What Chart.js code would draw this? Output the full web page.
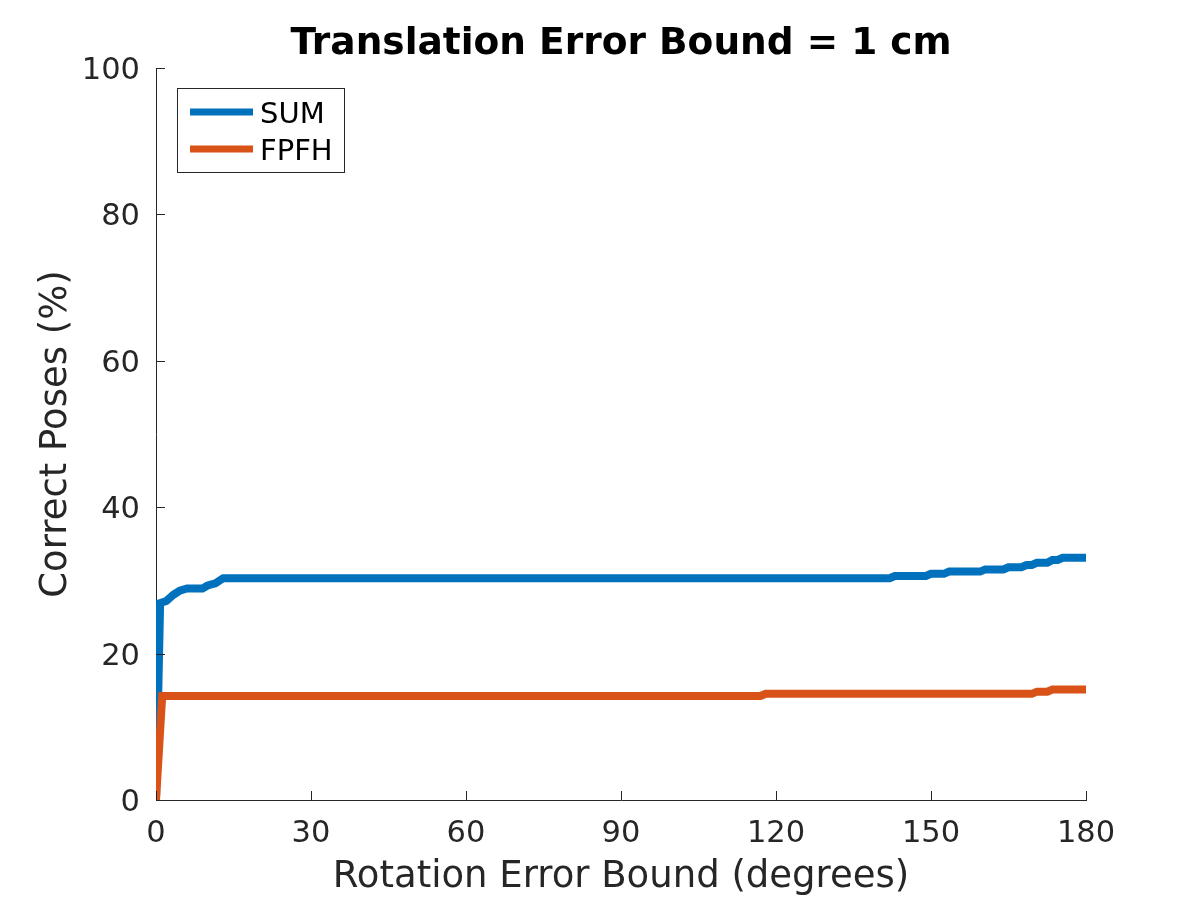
<!DOCTYPE html>
<html>
<head>
<meta charset="utf-8">
<script src="https://cdn.jsdelivr.net/npm/chart.js@4"></script>
<style>
  html, body { margin: 0; padding: 0; background: #fff; }
  #wrap { width: 1200px; height: 900px; }
</style>
</head>
<body>
<div id="wrap"><canvas id="chart" width="1200" height="900"></canvas></div>
<script>
// rotation bound (deg) / correct poses (%)
const sumX = [0, 0.8, 2, 3.3, 4.6, 6, 9, 10, 11.5, 13, 142, 143, 149, 150, 152.5, 153.5, 159.5, 160.5, 164, 165, 167.5, 168.5, 169.5, 170.5, 172.5, 173.5, 174.5, 175.5, 180];
const sumY = [0, 26.9, 27.2, 28.0, 28.6, 28.9, 28.9, 29.3, 29.6, 30.3, 30.3, 30.6, 30.6, 30.9, 30.9, 31.2, 31.2, 31.5, 31.5, 31.8, 31.8, 32.1, 32.1, 32.4, 32.4, 32.8, 32.8, 33.1, 33.1];
const fpfhX = [0, 1.2, 117, 118, 169.5, 170.5, 172.5, 173.5, 180];
const fpfhY = [0, 14.2, 14.2, 14.5, 14.5, 14.8, 14.8, 15.1, 15.1];

const xTicks = [0, 30, 60, 90, 120, 150, 180];
const yTicks = [0, 20, 40, 60, 80, 100];

const seriesNames = ['SUM', 'FPFH'];
const seriesColors = ['#0072BD', '#D95319'];

const TEXT = '#262626';
const FONT = 'DejaVu Sans';

function toPoints(xs, ys) {
    return xs.map((x, i) => ({ x: x, y: ys[i] }));
}

// matlab style ticks pointing into the axes
const insideTicks = {
    id: 'insideTicks',
    afterDraw(chart) {
        const ctx = chart.ctx;
        const { left, bottom } = chart.chartArea;
        const xs = chart.scales.x, ys = chart.scales.y;
        const len = 9;
        ctx.save();
        ctx.strokeStyle = TEXT;
        ctx.lineWidth = 1;
        ctx.beginPath();
        xTicks.forEach(v => {
            const px = Math.round(xs.getPixelForValue(v)) + 0.5;
            ctx.moveTo(px, bottom);
            ctx.lineTo(px, bottom - len);
        });
        yTicks.forEach(v => {
            const py = Math.round(ys.getPixelForValue(v)) + 0.5;
            ctx.moveTo(left, py);
            ctx.lineTo(left + len, py);
        });
        ctx.stroke();
        ctx.restore();
    }
};

// boxed legend in the upper left of the axes
const boxLegend = {
    id: 'boxLegend',
    afterDraw(chart) {
        const ctx = chart.ctx;
        const { left, top } = chart.chartArea;
        const bx = left + 21, by = top + 20, bw = 167, bh = 84;
        ctx.save();
        ctx.fillStyle = '#fff';
        ctx.fillRect(bx, by, bw, bh);
        ctx.strokeStyle = TEXT;
        ctx.lineWidth = 1;
        ctx.strokeRect(bx + 0.5, by + 0.5, bw, bh);
        ctx.font = '29px "' + FONT + '"';
        ctx.textBaseline = 'middle';
        ctx.fillStyle = '#000';
        seriesNames.forEach((name, i) => {
            const cy = by + 24 + i * 37;
            ctx.strokeStyle = seriesColors[i];
            ctx.lineWidth = 7;
            ctx.beginPath();
            ctx.moveTo(bx + 13, cy);
            ctx.lineTo(bx + 76, cy);
            ctx.stroke();
            ctx.fillText(name, bx + 83, cy + 3);
        });
        ctx.restore();
    }
};

new Chart(document.getElementById('chart'), {
    type: 'line',
    data: {
        datasets: [
            {
                label: seriesNames[0],
                data: toPoints(sumX, sumY),
                borderColor: seriesColors[0],
                borderWidth: 8,
                pointRadius: 0,
                tension: 0,
                order: 2
            },
            {
                label: seriesNames[1],
                data: toPoints(fpfhX, fpfhY),
                borderColor: seriesColors[1],
                borderWidth: 8,
                pointRadius: 0,
                tension: 0,
                order: 1
            }
        ]
    },
    options: {
        responsive: false,
        animation: false,
        layout: { padding: { left: 0, right: 114, top: 0, bottom: 0 } },
        plugins: {
            legend: { display: false },
            tooltip: { enabled: false },
            title: {
                display: true,
                fullSize: false,
                text: 'Translation Error Bound = 1 cm',
                color: '#000',
                font: { family: FONT, size: 37.5, weight: 'bold' },
                padding: { top: 22, bottom: 1 }
            }
        },
        scales: {
            x: {
                type: 'linear',
                min: 0,
                max: 180,
                afterFit(scale) { scale.height = 100; },
                afterBuildTicks(scale) { scale.ticks = xTicks.map(v => ({ value: v })); },
                grid: { display: false, drawTicks: false },
                border: { display: true, color: TEXT, width: 1 },
                ticks: { color: TEXT, font: { family: FONT, size: 30.5 }, padding: 16, maxRotation: 0 },
                title: {
                    display: true,
                    text: 'Rotation Error Bound (degrees)',
                    color: TEXT,
                    font: { family: FONT, size: 37 },
                    padding: { top: 0, bottom: 0 }
                }
            },
            y: {
                min: 0,
                max: 100,
                afterFit(scale) { scale.width = 156; },
                afterBuildTicks(scale) { scale.ticks = yTicks.map(v => ({ value: v })); },
                grid: { display: false, drawTicks: false },
                border: { display: true, color: TEXT, width: 1 },
                ticks: { color: TEXT, font: { family: FONT, size: 30.5 }, padding: 16, labelOffset: 3 },
                title: {
                    display: true,
                    text: 'Correct Poses (%)',
                    color: TEXT,
                    font: { family: FONT, size: 37 },
                    padding: { top: 34.5, bottom: 0 }
                }
            }
        }
    },
    plugins: [insideTicks, boxLegend]
});
</script>
</body>
</html>
